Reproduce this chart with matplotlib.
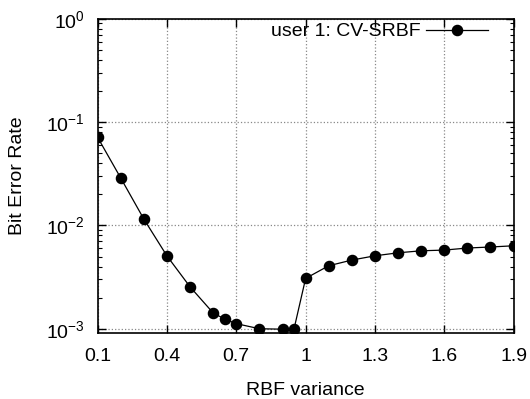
import matplotlib
matplotlib.use("Agg")
import matplotlib.pyplot as plt
from matplotlib.ticker import LogLocator, NullFormatter

# RBF variance vs bit error rate
rbf_variance = [0.1, 0.2, 0.3, 0.4, 0.5, 0.6, 0.65, 0.7, 0.8, 0.9, 0.95,
                1.0, 1.1, 1.2, 1.3, 1.4, 1.5, 1.6, 1.7, 1.8, 1.9]
ber = [0.071, 0.0287, 0.0115, 0.00506, 0.00254, 0.00142, 0.00124, 0.00112,
       0.00100, 0.00099, 0.00100, 0.00307, 0.00407, 0.00462, 0.00508,
       0.00543, 0.00568, 0.00577, 0.00604, 0.00618, 0.00635]
x_ticks = [0.1, 0.4, 0.7, 1, 1.3, 1.6, 1.9]
x_tick_labels = ["0.1", "0.4", "0.7", "1", "1.3", "1.6", "1.9"]
series_label = "user 1: CV-SRBF"

plt.rcParams['font.family'] = ['Liberation Sans', 'DejaVu Sans']
plt.rcParams['mathtext.fontset'] = 'custom'
plt.rcParams['mathtext.rm'] = 'Liberation Sans'

fs = 14

fig = plt.figure(figsize=(5.3, 3.99), dpi=100)
ax = fig.add_axes([0.1843, 0.166, 0.969 - 0.1843, 0.953 - 0.166])

ax.plot(rbf_variance, ber, color='black', linewidth=0.9, marker='o',
        markersize=7.3, label=series_label)

ax.set_yscale('log')
ax.set_xlim(0.1, 1.9)
ax.set_ylim(10 ** -3.039, 1.0)
ax.set_xticks(x_ticks)
ax.set_xticklabels(x_tick_labels)
ax.yaxis.set_major_locator(LogLocator(base=10, numticks=10))
ax.yaxis.set_minor_locator(LogLocator(base=10, subs=range(2, 10), numticks=20))
ax.yaxis.set_minor_formatter(NullFormatter())

ax.grid(True, which='major', color='#888888', linestyle=':', linewidth=0.9)
ax.tick_params(which='both', direction='in', top=True, right=True,
               labelsize=fs)
ax.tick_params(axis='x', pad=11)
ax.tick_params(axis='y', pad=9.5)
ax.tick_params(which='major', length=6, width=1)
ax.tick_params(which='minor', length=3, width=0.8)
for s in ax.spines.values():
    s.set_linewidth(1.2)

ax.set_xlabel("RBF variance", fontsize=fs, labelpad=12)
ax.set_ylabel("Bit Error Rate", fontsize=fs, labelpad=14)

ax.legend(loc='upper right', bbox_to_anchor=(0.9394, 0.987), frameon=False,
          markerfirst=False, fontsize=fs, handlelength=3.2,
          handletextpad=0.3, borderpad=0, borderaxespad=0)

fig.savefig("out.png", dpi=100)
